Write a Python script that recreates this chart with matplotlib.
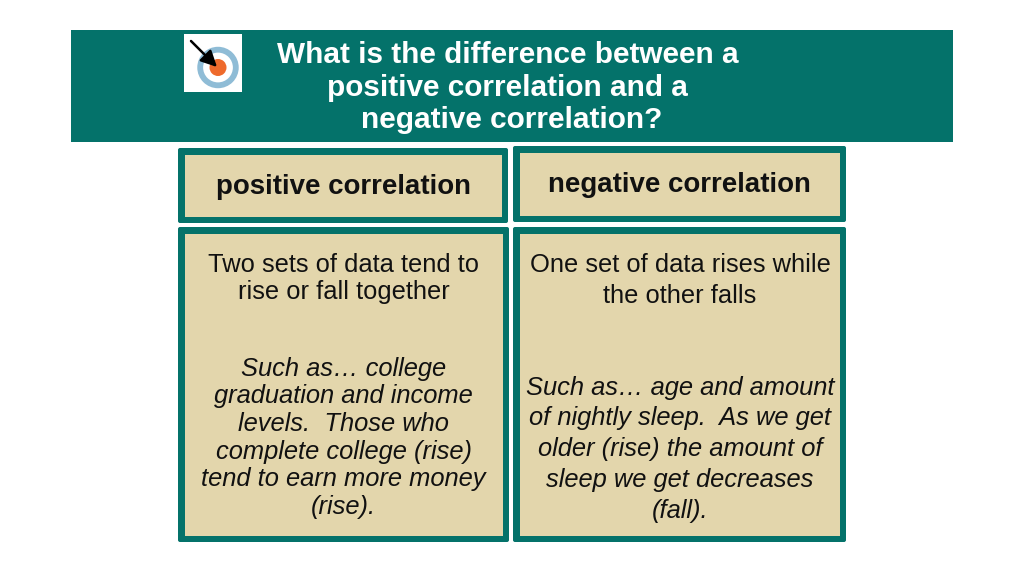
import matplotlib
matplotlib.use('Agg')
import matplotlib.pyplot as plt
from matplotlib.patches import FancyBboxPatch, Rectangle, Circle

plt.rcParams['font.family'] = ['Liberation Sans', 'DejaVu Sans']

title_lines = ['What is the difference between a', 'positive correlation and a', 'negative correlation?']
title_x = [507.5, 507.5, 511.5]
left_head = 'positive correlation'
right_head = 'negative correlation'
left_top = ['Two sets of data tend to', 'rise or fall together']
right_top = ['One set of data rises while', 'the other falls']
left_ex = ['Such as… college', 'graduation and income', 'levels.  Those who', 'complete college (rise)',
           'tend to earn more money', '(rise).']
right_ex = ['Such as… age and amount', 'of nightly sleep.  As we get', 'older (rise) the amount of',
            'sleep we get decreases', '(fall).']

teal = '#04726a'
tan = '#e3d6ac'
ink = '#111111'

fig = plt.figure(figsize=(10.24, 5.75), dpi=100)
ax = fig.add_axes([0, 0, 1, 1])
ax.set_xlim(0, 1024)
ax.set_ylim(575, 0)
ax.axis('off')


def box(x0, y0, x1, y1):
    # outer teal frame with a tan fill inside it
    ax.add_patch(FancyBboxPatch((x0 + 2, y0 + 2), x1 - x0 - 4, y1 - y0 - 4,
                                boxstyle='round,pad=2,rounding_size=2', fc=teal, ec='none'))
    ax.add_patch(Rectangle((x0 + 6.5, y0 + 6.5), x1 - x0 - 12.5, y1 - y0 - 13, fc=tan, ec='none'))


def lines(cx, ys, rows, size, color=ink, weight='normal', style='normal'):
    for y, row in zip(ys, rows):
        ax.text(cx, y, row, ha='center', va='center', fontsize=size, color=color,
                fontweight=weight, fontstyle=style)


# banner
ax.add_patch(Rectangle((71, 30), 882, 112, fc=teal, ec='none'))
for x, y, row in zip(title_x, [55, 88, 120.5], title_lines):
    lines(x, [y], [row], 21.45, color='white', weight='bold')

# target icon
ax.add_patch(Rectangle((184, 34), 58, 58, fc='white', ec='none'))
ax.add_patch(Circle((218, 67.5), 17.8, fc='white', ec='#8fbcd6', lw=4.2))
ax.add_patch(Circle((218, 67.5), 8.5, fc='#ee6a2c', ec='none'))
ax.annotate('', xy=(217, 67), xytext=(191, 41),
            arrowprops=dict(arrowstyle='-|>', color='black', lw=1.8, mutation_scale=24, shrinkA=0, shrinkB=0))

# boxes
box(178, 148, 508, 223)
box(513, 146, 846, 222)
box(178, 227, 509, 542)
box(513, 227, 846, 542)

# headers
lines(343, [187], [left_head], 19.9, weight='bold')
lines(679, [185], [right_head], 19.9, weight='bold')

# body text
lines(343.5, [265, 292], left_top, 18.4)
lines(680, [265, 296], right_top, 18.4)
lines(343.5, [369, 396.5, 424, 452, 479, 507], left_ex, 18.4, style='italic')
lines(680, [388, 418.5, 449, 480, 511], right_ex, 18.4, style='italic')

fig.savefig('out.png', dpi=100, facecolor='white')
